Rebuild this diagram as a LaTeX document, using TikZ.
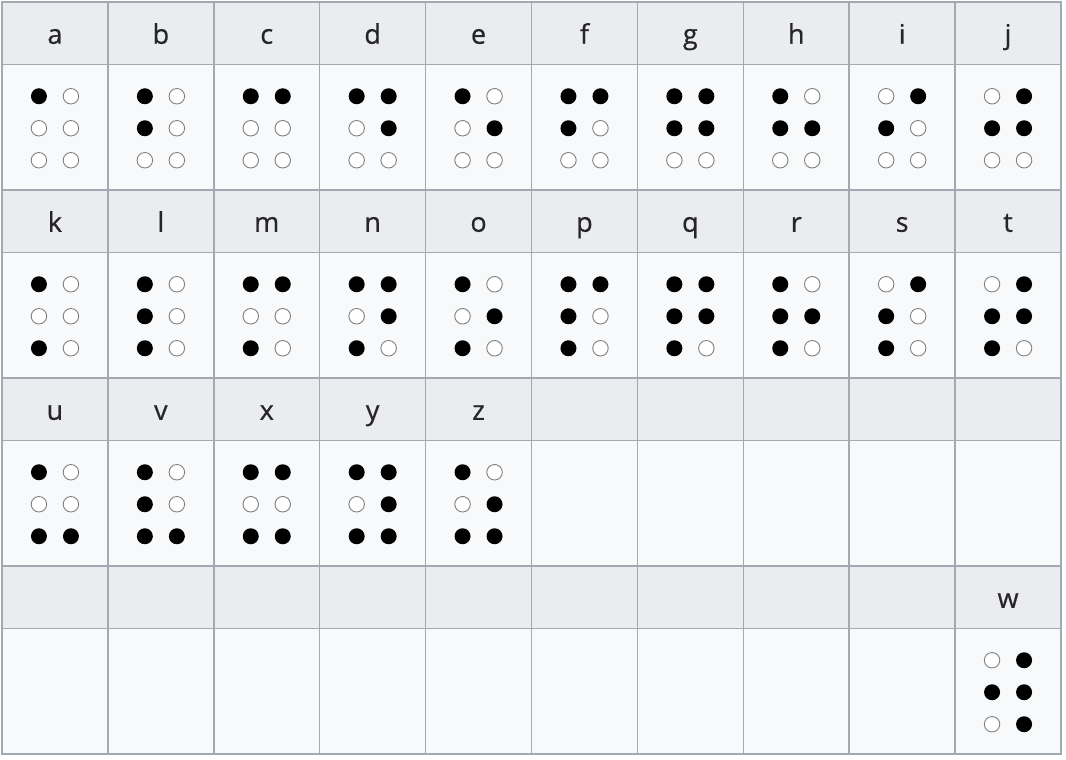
\documentclass[tikz,border=0pt]{standalone}
\usepackage{fontspec}
\setmainfont{Open Sans}
\newfontfamily\headfont{Open Sans}[FakeBold=0.6]
\usetikzlibrary{positioning}

\definecolor{headgray}{HTML}{EAECF0}
\definecolor{bodygray}{HTML}{F8F9FA}
\definecolor{rulegray}{HTML}{A2A9B1}
\definecolor{ringgray}{HTML}{808080}

\begin{document}
\begin{tikzpicture}[x=1pt,y=-1pt]
  \tikzstyle{headcell}=[rectangle,draw=rulegray,fill=headgray,line width=1.5pt,minimum width=105.9pt,minimum height=62.5pt,inner sep=0pt]
  \tikzstyle{bodycell}=[rectangle,draw=rulegray,fill=bodygray,line width=1.5pt,minimum width=105.9pt,minimum height=125.5pt,inner sep=0pt]
  \tikzstyle{letter}=[font=\headfont\fontsize{27}{27}\selectfont,text=black!85,anchor=base]
  \tikzstyle{dot1}=[circle,fill=black,minimum size=16pt,inner sep=0pt]
  \tikzstyle{dot0}=[circle,draw=ringgray,line width=0.9pt,fill=white,minimum size=15.5pt,inner sep=0pt]

  \useasboundingbox (0,0) rectangle (1066,760);

  % empty grid
  \foreach \r in {0,...,3}
    \foreach \c in {0,...,9} {
      \node[headcell] (head-\r-\c) at ({2+105.9*(\c+0.5)},{2+188*\r+31.25}) {};
      \node[bodycell] (body-\r-\c) at ({2+105.9*(\c+0.5)},{2+188*\r+62.5+62.75}) {};
    }

  % letters and their six dots
  \foreach \ch/\r/\c/\pat in {
      a/0/0/{1,0,0,0,0,0}, b/0/1/{1,1,0,0,0,0}, c/0/2/{1,0,0,1,0,0},
      d/0/3/{1,0,0,1,1,0}, e/0/4/{1,0,0,0,1,0}, f/0/5/{1,1,0,1,0,0},
      g/0/6/{1,1,0,1,1,0}, h/0/7/{1,1,0,0,1,0}, i/0/8/{0,1,0,1,0,0},
      j/0/9/{0,1,0,1,1,0},
      k/1/0/{1,0,1,0,0,0}, l/1/1/{1,1,1,0,0,0}, m/1/2/{1,0,1,1,0,0},
      n/1/3/{1,0,1,1,1,0}, o/1/4/{1,0,1,0,1,0}, p/1/5/{1,1,1,1,0,0},
      q/1/6/{1,1,1,1,1,0}, r/1/7/{1,1,1,0,1,0}, s/1/8/{0,1,1,1,0,0},
      t/1/9/{0,1,1,1,1,0},
      u/2/0/{1,0,1,0,0,1}, v/2/1/{1,1,1,0,0,1}, x/2/2/{1,0,1,1,0,1},
      y/2/3/{1,0,1,1,1,1}, z/2/4/{1,0,1,0,1,1},
      w/3/9/{0,1,0,1,1,1}} {
    \node[letter] (name-\ch) at ([yshift=-10.5pt]head-\r-\c) {\ch};
    \foreach \v [count=\k] in \pat {
      \pgfmathsetmacro{\dx}{\k>3 ? 16 : -16}
      \pgfmathsetmacro{\dy}{32*(mod(\k-1,3)-1)+1}
      \node[dot\v] (dot-\ch-\k) at ([xshift=\dx pt,yshift=-\dy pt]body-\r-\c) {};
    }
  }

\end{tikzpicture}
\end{document}
